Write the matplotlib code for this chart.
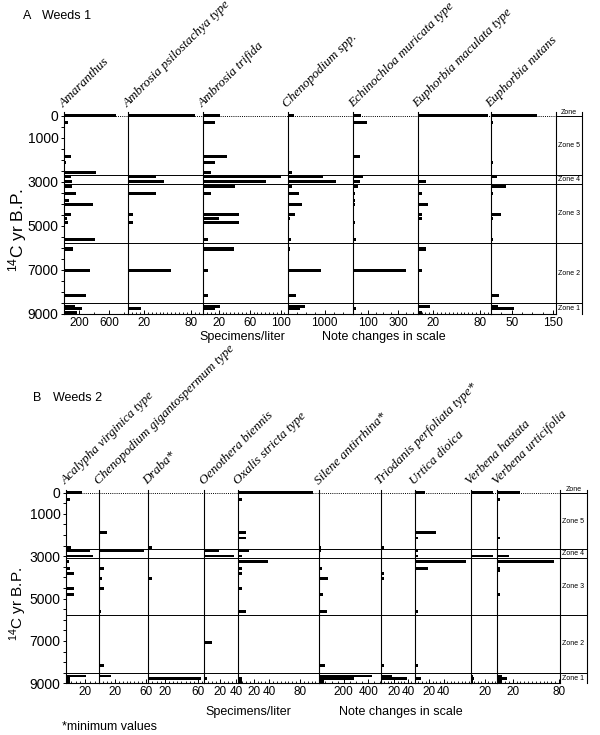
import numpy as np
import matplotlib
matplotlib.use("Agg")
import matplotlib.pyplot as plt

plt.rcParams.update({
    "font.family": ["Liberation Sans", "DejaVu Sans"],
    "mathtext.default": "regular",
    "axes.linewidth": 0.8,
})

W, H = 600, 735

# ---- zones (14C yr B.P.) ----
ZONE_EDGES = [2680, 3080, 5780, 8500]
ZONE_NAMES = ["Zone 5", "Zone 4", "Zone 3", "Zone 2", "Zone 1"]
ZONE_MIDS = [1340, 2880, 4430, 7140, 8750]

# ---- A: Weeds 1 (specimens/liter per sample age) ----
AGES_A = [0, 300, 1860, 2120, 2570, 2740, 2970, 3220, 3540, 3830, 4010,
          4480, 4660, 4830, 5600, 6050, 7040, 8160, 8650, 8750, 8930]
AMARANTHUS = [690, 44, 84, 22, 418, 84, 98, 98, 151, 62, 386,
              84, 36, 44, 404, 111, 338, 289, 138, 240, 169]
AMBROSIA_PSILO = [86, 0, 0, 0, 0, 35, 46, 0, 36, 0, 0,
                  6, 0, 6, 0, 1, 55, 0, 0, 16, 0]
AMBROSIA_TRIF = [21, 15, 31, 15, 10, 101, 81, 41, 10, 0, 0,
                 46, 20, 46, 6, 40, 6, 6, 21, 15, 0]
CHENOPODIUM = [170, 27, 45, 36, 125, 939, 1314, 116, 313, 27, 384,
               197, 54, 45, 89, 54, 894, 241, 474, 331, 0]
ECHINOCHLOA = [49, 93, 44, 4, 0, 62, 44, 29, 13, 9, 9,
               7, 0, 11, 18, 7, 351, 4, 0, 18, 0]
EUPH_MACULATA = [90, 0, 0, 0, 0, 0, 11, 0, 5, 0, 13,
                 5, 5, 0, 0, 11, 6, 0, 16, 0, 6]
EUPH_NUTANS = [111, 4, 0, 4, 0, 14, 0, 37, 4, 0, 0,
               24, 4, 0, 4, 2, 0, 20, 18, 56, 0]

# ---- B: Weeds 2 ----
AGES_B = [0, 315, 1870, 2140, 2580, 2740, 2990, 3270, 3560, 3680, 3800,
          4045, 4520, 4790, 5620, 6090, 7080, 8175, 8655, 8770, 8900]
ACALYPHA = [16.5, 4, 0, 0, 5, 25, 28, 3, 4, 0, 8,
            0, 8, 8, 0, 1.5, 0, 0, 21, 4, 4]
CHENO_GIGANTO = [0, 0, 10, 0, 0, 58, 0, 0, 6, 0, 0,
                 3, 6, 0, 2.6, 0, 0, 6, 15, 0, 0]
DRABA = [0, 0, 0, 0, 4.4, 0, 0, 0, 0, 0, 0,
         4.8, 0, 0, 0, 0, 0, 0, 0, 63, 0]
OENOTHERA = [0, 0, 0, 0, 0, 19, 38, 0, 0, 0, 0,
             0, 0, 0, 0, 0, 10, 0, 0, 4, 0]
OXALIS = [97, 5, 10, 10, 0, 14, 5, 39, 5, 0, 5,
          0, 5, 0, 10, 0, 0, 0, 0, 5, 5]
SILENE = [0, 0, 0, 0, 11, 11, 5, 5, 25, 0, 0,
          74, 0, 27, 66, 0, 0, 46, 429, 287, 38]
TRIODANIS = [0, 0, 0, 0, 5, 0, 0, 0, 0, 0, 5,
             5, 0, 0, 0, 0, 0, 5, 16, 38, 0]
URTICA = [14, 0, 30, 4, 0, 4, 4, 71, 19, 0, 0,
          0, 0, 0, 4, 0, 0, 4, 0, 9, 0]
VERB_HASTATA = [32, 0, 0, 0, 0, 0, 32, 0, 0, 0, 0,
                0, 0, 0, 0, 0, 0, 0, 3, 4, 3]
VERB_URTICIF = [29, 4, 0, 3.5, 0, 0, 15, 74, 4, 3, 0,
                0, 0, 4, 0, 0, 0, 0, 6, 12, 6]

# (title, values, x max, labelled ticks, minor step)
COLS_A = [
    ("Amaranthus", AMARANTHUS, 853, [200, 600], 200),
    ("Ambrosia psilostachya type", AMBROSIA_PSILO, 96, [20, 80], 5),
    ("Ambrosia trifida", AMBROSIA_TRIF, 109, [20, 60, 100], 5),
    ("Chenopodium spp.", CHENOPODIUM, 1765, [1000], 250),
    ("Echinochloa muricata type", ECHINOCHLOA, 430, [100, 300], 50),
    ("Euphorbia maculata type", EUPH_MACULATA, 94, [20, 80], 5),
    ("Euphorbia nutans", EUPH_NUTANS, 157, [50, 150], 25),
]
EDGES_A = [64.3, 128.3, 203.3, 287.5, 353.3, 417.7, 491, 556]

COLS_B = [
    ("Acalypha virginica type", ACALYPHA, 35, [20], 5),
    ("Chenopodium gigantospermum type", CHENO_GIGANTO, 63, [20, 60], 5),
    ("Draba*", DRABA, 67.5, [20, 60], 5),
    ("Oenothera biennis", OENOTHERA, 43, [20, 40], 5),
    ("Oxalis stricta type", OXALIS, 105, [20, 40, 80], 5),
    ("Silene antirrhina*", SILENE, 503, [200, 400], 50),
    ("Triodanis perfoliata type*", TRIODANIS, 50, [20, 40], 5),
    ("Urtica dioica", URTICA, 78, [20, 40], 5),
    ("Verbena hastata", VERB_HASTATA, 37.6, [20], 5),
    ("Verbena urticifolia", VERB_URTICIF, 81.4, [20, 80], 5),
]
EDGES_B = [66, 99.3, 148.3, 204.3, 238.3, 319.3, 380.7, 414.7, 471, 497.3, 560]

YTOP, YBOT = -150, 9000
BAR_H = 140


def rect(x0, x1, ytop, ybot):
    return [x0 / W, 1 - ybot / H, (x1 - x0) / W, (ybot - ytop) / H]


def draw_panel(fig, ages, cols, edges, zone_right, ptop, pbot, ylab_y, ylab_fs):
    for i, (name, vals, xmax, ticks, step) in enumerate(cols):
        ax = fig.add_axes(rect(edges[i], edges[i + 1], ptop, pbot))
        ax.barh(ages, vals, height=BAR_H, color="black", linewidth=0, zorder=3)
        ax.set_xlim(0, xmax)
        ax.set_ylim(YBOT, YTOP)
        for s in ("top", "right"):
            ax.spines[s].set_visible(False)
        ax.axhline(0, color="black", lw=0.7, ls=(0, (1, 1.2)), zorder=2)
        for z in ZONE_EDGES:
            ax.axhline(z, color="black", lw=0.7, zorder=2)
        ax.set_xticks(ticks)
        ax.set_xticklabels([str(t) for t in ticks], fontsize=8.5)
        ax.set_xticks(np.arange(step, xmax, step), minor=True)
        ax.tick_params(axis="x", which="major", direction="in", length=3,
                       width=0.7, pad=2)
        ax.tick_params(axis="x", which="minor", direction="in", length=1.5,
                       width=0.6)
        if i == 0:
            yt = np.arange(0, 9001, 500)
            lab = {0: "0", 1000: "1000", 3000: "3000", 5000: "5000",
                   7000: "7000", 9000: "9000"}
            ax.set_yticks(yt)
            ax.set_yticklabels([lab.get(int(v), "") for v in yt], fontsize=10)
            ax.tick_params(axis="y", direction="out", length=2.5, width=0.7,
                           pad=1.5)
        else:
            ax.set_yticks([])
        ax.annotate(name, xy=(0, 1), xycoords="axes fraction",
                    xytext=(1, 1.5), textcoords="offset points",
                    rotation=45, rotation_mode="anchor", ha="left",
                    va="bottom", fontsize=9.5, fontstyle="italic",
                    family=["Liberation Serif", "DejaVu Serif"])

    # zone column
    zx = fig.add_axes(rect(edges[-1], zone_right, ptop, pbot))
    zx.set_xlim(0, 1)
    zx.set_ylim(YBOT, YTOP)
    for s in ("top", "bottom"):
        zx.spines[s].set_visible(False)
    zx.set_xticks([])
    zx.set_yticks([])
    zx.axhline(0, color="black", lw=0.7)
    for z in ZONE_EDGES:
        zx.axhline(z, color="black", lw=0.7)
    for nm, mid in zip(ZONE_NAMES, ZONE_MIDS):
        zx.text(0.5, mid, nm, ha="center", va="center", fontsize=5)
    zx.text(0.5, 0, "Zone", ha="center", va="bottom", fontsize=5,
            clip_on=False)

    fig.text(18 / W, 1 - ylab_y / H, "$^{14}$C yr B.P.", rotation=90,
             ha="center", va="center", fontsize=ylab_fs)


fig = plt.figure(figsize=(W / 100, H / 100), dpi=100)

draw_panel(fig, AGES_A, COLS_A, EDGES_A, 582, 112.4, 314, 230, 12.5)
draw_panel(fig, AGES_B, COLS_B, EDGES_B, 586.7, 489.5, 683.3, 604, 11)

fig.text(23 / W, 1 - 16 / H, "A", fontsize=9, va="center")
fig.text(42 / W, 1 - 16 / H, "Weeds 1", fontsize=9, va="center")
fig.text(33 / W, 1 - 398 / H, "B", fontsize=9, va="center")
fig.text(53 / W, 1 - 398 / H, "Weeds 2", fontsize=9, va="center")

fig.text(242 / W, 1 - 337 / H, "Specimens/liter", fontsize=9,
         ha="center", va="center")
fig.text(384 / W, 1 - 337 / H, "Note changes in scale", fontsize=9,
         ha="center", va="center")
fig.text(248 / W, 1 - 712 / H, "Specimens/liter", fontsize=9,
         ha="center", va="center")
fig.text(401 / W, 1 - 712 / H, "Note changes in scale", fontsize=9,
         ha="center", va="center")
fig.text(62 / W, 1 - 727 / H, "*minimum values", fontsize=9,
         ha="left", va="center")

fig.savefig("out.png", dpi=100)
